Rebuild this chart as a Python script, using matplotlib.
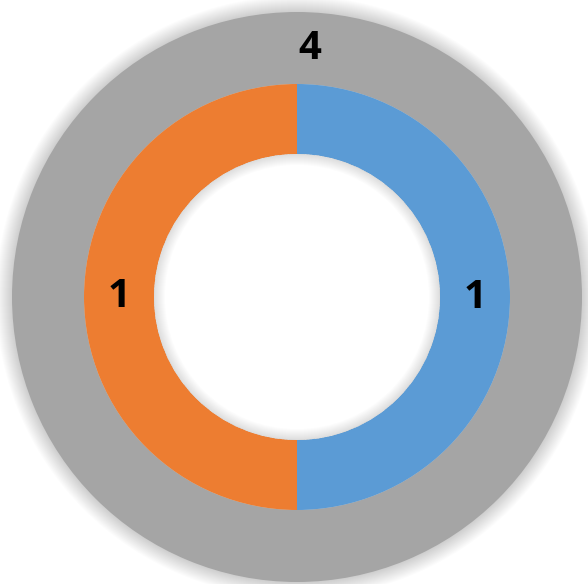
import matplotlib.pyplot as plt
from matplotlib.patches import Circle, Wedge

# data
outer_labels = ["Total"]
outer_values = [4]
inner_labels = ["A", "B"]
inner_values = [1, 1]

gray = "#A5A5A5"
blue = "#5B9BD5"
orange = "#ED7D31"

fig = plt.figure(figsize=(5.88, 5.84), dpi=100)
ax = fig.add_axes([0, 0, 1, 1])
ax.set_xlim(0, 588)
ax.set_ylim(0, 584)
ax.set_aspect("equal")
ax.axis("off")

cx, cy = 297, 287
r_out = 285
r_mid = 213
r_hole = 143

# soft shadow round the outside
for k in range(16, 0, -1):
    ax.add_patch(Circle((cx, cy), r_out + k, color="black", alpha=0.01, lw=0, zorder=0))

_, _, outer_txt = ax.pie(outer_values, radius=r_out, center=(cx, cy), colors=[gray], startangle=-93,
                         wedgeprops=dict(width=r_out - r_mid, linewidth=0),
                         autopct=lambda p: f"{p * sum(outer_values) / 100:.0f}",
                         pctdistance=(r_out + r_mid) / 2 / r_out,
                         textprops=dict(fontsize=29, fontweight="bold", color="black", family="Open Sans"),
                         frame=True)

ax.pie(inner_values, radius=r_mid, center=(cx, cy), colors=[blue, orange],
       startangle=90, counterclock=False,
       wedgeprops=dict(width=r_mid - r_hole, linewidth=0),
       autopct=lambda p: f"{p * sum(inner_values) / 100:.0f}",
       pctdistance=(r_mid + r_hole) / 2 / r_mid,
       textprops=dict(fontsize=29, fontweight="bold", color="black", family="Open Sans"),
       frame=True)

# white hole with a faint inner shadow
ax.add_patch(Circle((cx, cy), r_hole, color="white", lw=0, zorder=4))
for k in range(1, 12):
    ax.add_patch(Wedge((cx, cy), r_hole, 0, 360, width=k, color="black", alpha=0.01, lw=0, zorder=5))

ax.set_xlim(0, 588)
ax.set_ylim(0, 584)
ax.axis("off")

plt.savefig("out.png", dpi=100)
